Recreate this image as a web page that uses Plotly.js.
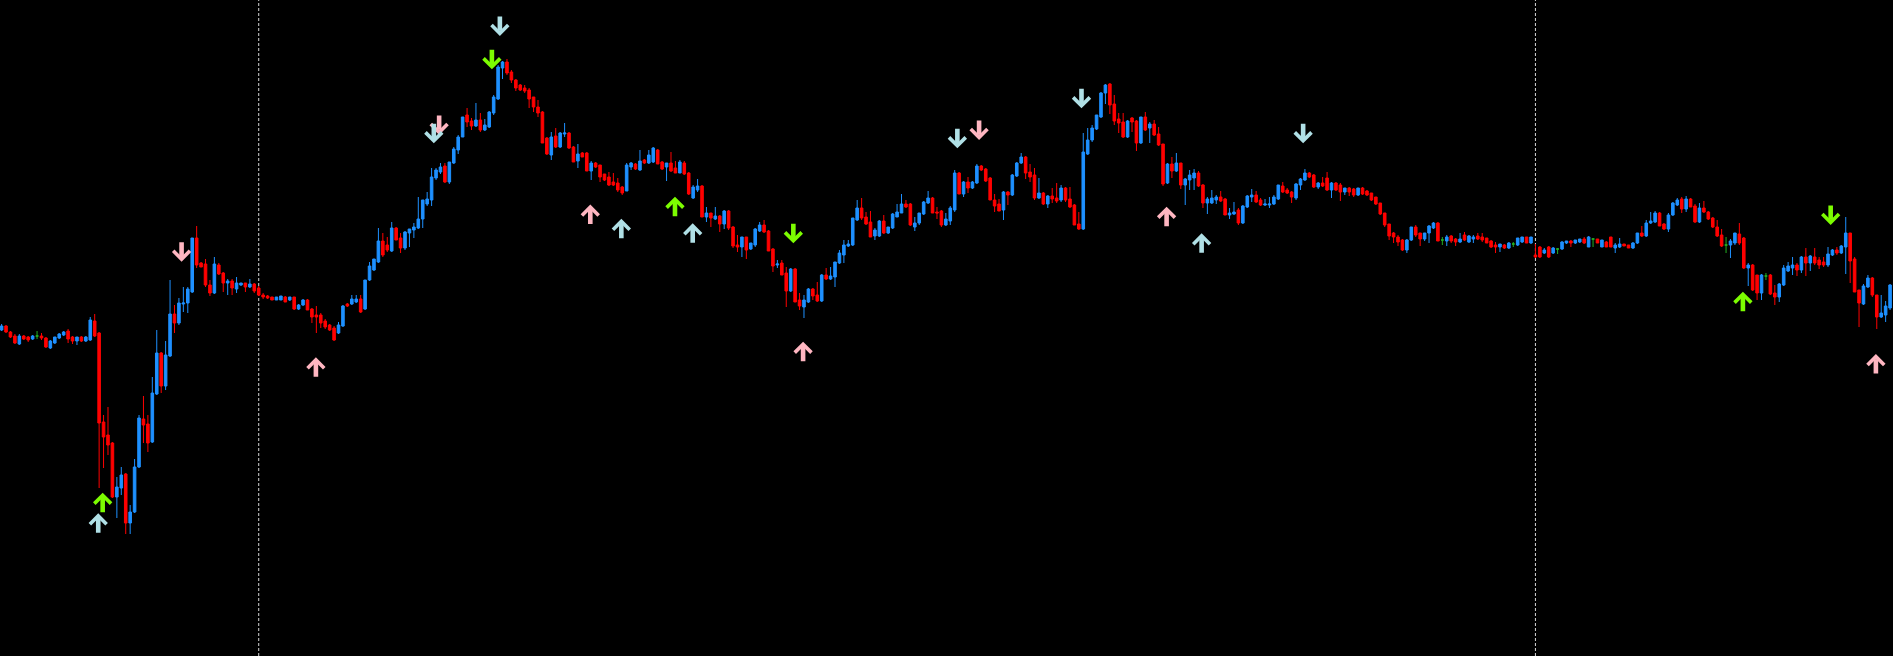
<!DOCTYPE html>
<html>
<head>
<meta charset="utf-8">
<script src="https://cdn.plot.ly/plotly-3.0.1.min.js"></script>
<style>
html,body{margin:0;padding:0;background:#000;overflow:hidden}
#chart{width:1893px;height:656px}
</style>
</head>
<body>
<div id="chart"></div>
<script>
// Candles, in chart price units: [open, high, low, close]
const session1Bars = [
[326,332,325,330],[330,331,323,324],[324,325,318,319],[320,322,312,313],[312,322,311,320],
[320,321,316,317],[319,320,314,316],[317,321,316,320],[320,325,317,320],[320,323,316,318],
[318,319,308,309],[308,316,307,315],[313,319,312,319],[318,323,317,322],[321,325,320,324],
[325,327,313,317],[319,320,312,315],[315,319,311,319],[319,320,314,315],[315,320,314,319],
[316,339,315,336],[335,342,319,320],[323,324,168,233],[234,241,188,219],[221,249,201,211],
[213,214,158,159],[159,179,138,169],[168,189,161,181],[182,183,122,133],[133,151,122,144],
[144,197,143,189],[189,241,188,238],[237,260,213,231],[232,241,204,213],[214,279,213,263],
[262,326,261,303],[303,304,263,270],[270,315,266,301],[300,376,299,342],[342,351,323,333],
[333,358,331,353],[352,369,344,353],[353,369,343,367],[364,418,363,418],[418,430,388,391],
[393,394,389,389],[392,397,369,371],[371,376,360,363],[363,399,362,392],[391,393,381,382],
[383,384,364,373],[373,377,361,375],[375,377,361,368],[367,379,363,373],[371,373,370,373],
[373,373,364,369],[369,377,368,372],[372,373,363,365]
];
const session2Bars = [
[368,370,360,361],[361,363,357,359],[360,361,357,358],[359,359,356,356],[356,359,356,359],[356,360,356,360],[359,360,354,354],[356,359,355,359],[359,359,346,347],[347,352,346,351],
[351,357,350,356],[356,357,346,346],[347,348,333,339],[341,350,323,339],[341,343,328,333],[335,337,327,329],[331,332,325,326],[328,330,315,316],[323,334,322,331],[330,351,329,350],
[352,353,349,350],[352,361,351,357],[354,361,353,357],[357,361,343,344],[347,376,346,376],[376,394,375,390],[386,397,385,397],[394,428,393,415],[415,423,399,401],[411,419,404,406],
[405,434,404,428],[428,429,416,416],[418,423,403,408],[408,425,406,424],[423,427,409,427],[426,433,418,429],[428,459,427,437],[437,456,428,456],[452,464,450,457],[456,488,450,479],
[478,488,476,486],[484,493,482,489],[490,493,473,474],[474,494,472,494],[493,509,492,507],[506,521,502,519],[519,539,519,539],[541,548,529,534],[535,538,526,530],[530,553,529,536],
[536,543,524,526],[526,537,525,531],[529,545,528,544],[543,561,541,559],[557,591,556,589],[588,595,577,594],[594,597,581,583],[584,586,573,576],[576,577,565,568],[571,572,565,566],
[568,571,563,565],[566,568,548,557],[559,559,544,549],[549,556,539,543],[544,545,513,513],[518,519,501,502],[501,524,496,519],[520,528,508,509],[509,524,508,523],[522,533,519,523],
[523,524,507,508],[509,510,494,494],[495,512,488,502],[503,504,499,499],[503,504,485,485],[485,495,476,493],[493,494,488,489],[491,491,474,479],[482,482,475,476],[479,484,470,471],
[474,483,470,471],[473,478,464,466],[469,470,461,463],[465,493,465,491],[489,494,486,493],[492,493,486,487],[486,506,485,495],[496,497,492,493],[493,506,492,501],[494,509,493,508],
[506,507,492,492],[494,495,486,487],[489,493,475,493],[493,504,484,485],[488,495,483,483],[483,496,483,494],[493,495,481,482],[483,484,461,462],[458,471,457,469],[466,477,464,470],
[470,471,439,439],[439,449,434,443],[443,443,429,438],[437,449,436,440],[440,441,424,432],[432,446,427,445],[445,446,426,428],[429,430,408,410],[411,421,404,409],[409,419,399,419],
[419,419,397,406],[407,413,406,413],[411,428,409,427],[425,434,424,431],[431,436,423,424],[425,426,405,405],[407,408,384,390],[391,396,388,392],[393,396,381,381],[383,389,349,365],
[365,388,364,387],[387,388,354,354],[356,363,346,350],[349,361,338,356],[354,368,353,367],[367,368,356,360],[361,374,354,355],[355,382,354,381],[381,388,376,377],[377,389,376,380],
[379,394,369,394],[393,406,392,403],[401,416,393,411],[410,416,409,412],[411,438,410,438],[436,456,435,448],[448,458,436,438],[439,444,431,432],[434,445,419,419],[420,428,416,426],
[420,436,419,435],[435,441,422,423],[423,429,422,429],[428,443,427,442],[439,452,439,444],[443,462,443,452],[452,456,448,449],[452,453,430,431],[429,439,425,433],[433,443,431,443],
[442,455,441,454],[453,465,452,458],[458,459,443,443],[444,449,437,443],[445,446,429,431],[431,443,430,437],[435,450,431,448],[446,486,444,483],[483,484,462,462],[462,475,459,474],
[474,479,463,468],[468,475,467,474],[473,492,472,490],[490,491,485,486],[487,488,474,475],[478,479,456,456],[456,462,444,450],[452,457,445,445],[446,465,436,464],[464,465,451,461],
[461,482,460,481],[480,494,479,493],[493,503,492,499],[499,500,477,483],[484,492,474,479],[481,488,456,458],[458,478,457,463],[463,464,451,452],[452,461,448,460],[460,468,453,457],
[458,473,453,455],[456,471,454,468],[468,469,454,456],[457,469,448,449],[451,452,431,431],[432,444,426,427],[427,523,426,504],[502,528,501,516],[516,531,514,528],[527,541,526,541],
[539,564,538,563],[563,572,552,571],[572,573,542,551],[552,561,531,535],[537,543,523,533],[534,543,518,519],[519,536,518,535],[538,539,524,534],[535,536,505,513],[513,539,512,539],
[539,544,525,526],[528,534,513,532],[532,536,520,521],[522,529,510,511],[512,512,470,472],[473,493,472,492],[492,499,478,485],[485,503,484,493],[493,493,467,471],[471,478,451,477],
[476,486,466,481],[478,487,466,483],[483,485,469,470],[471,472,448,453],[453,459,442,457],[453,466,452,458],[456,461,452,459],[459,465,454,455],[457,458,441,441],[441,448,437,443],
[442,454,441,444],[446,448,431,433],[433,451,432,450],[449,461,448,460],[459,467,454,461],[461,465,453,454],[456,458,450,451],[451,457,450,452],[451,459,448,452],[452,461,451,459],
[457,471,456,471],[470,474,463,464],[466,468,462,463],[464,465,453,459],[458,473,456,472],[471,478,466,477],[476,487,475,483],[483,484,478,479],[481,482,468,469],[469,474,467,473],
[473,479,469,470],[478,484,465,466],[466,474,458,473],[473,474,465,466],[471,473,455,464],[464,468,461,468],[468,469,460,464],[467,468,459,461],[461,468,460,468],[468,469,461,462],
[465,466,460,461],[463,463,455,456],[459,459,451,452],[453,453,441,442],[443,443,429,431],[432,432,416,420],[423,424,413,419],[419,421,410,414],[416,417,405,406],[406,417,403,416],
[416,429,415,429],[429,431,419,421],[423,423,410,417],[417,423,415,423],[423,431,413,430],[428,434,427,433],[433,434,415,415],[416,419,411,416],[415,421,410,419],[420,421,413,415],
[417,418,410,414],[414,423,413,417],[421,424,415,416],[414,421,413,420],[417,421,413,419],[420,423,416,417],[419,423,414,416],[418,418,413,413],[415,416,408,409],[411,414,403,409],
[409,412,404,412],[411,412,407,408],[408,414,407,413],[412,414,409,412],[411,418,410,418],[414,419,413,419],[419,419,413,413],[413,419,412,419]
];
const session3Bars = [
[401,412,398,399],[409,410,398,399],[403,408,402,406],[409,410,398,399],[403,409,402,408],[407,408,402,407],[407,415,406,414],[413,415,412,415],[415,416,409,413],[413,416,412,416],
[414,417,413,417],[417,419,412,413],[409,420,409,419],[417,418,409,417],[417,417,413,413],[409,416,409,416],[414,415,409,409],[419,419,409,409],[408,413,403,411],[409,418,408,412],
[412,412,410,410],[411,411,408,408],[408,414,407,413],[413,423,412,423],[423,430,419,420],[420,436,419,433],[433,444,432,435],[434,445,433,443],[443,444,430,430],[432,433,426,427],
[427,443,424,441],[441,454,440,453],[451,458,450,456],[457,459,443,447],[447,460,444,457],[457,458,449,449],[450,452,433,434],[434,453,433,448],[448,455,443,444],[444,445,436,437],
[438,439,428,429],[429,436,419,420],[421,427,409,410],[411,419,403,411],[411,417,398,415],[413,423,411,423],[422,433,411,413],[418,419,387,388],[388,393,370,391],[391,392,365,366],
[381,381,356,363],[363,382,356,381],[380,383,376,380],[381,382,361,362],[363,371,351,359],[359,373,354,372],[371,391,370,388],[385,394,384,390],[388,399,381,391],[391,393,380,386],
[386,400,383,399],[399,408,380,393],[393,401,385,400],[399,408,391,393],[396,399,387,391],[394,399,389,391],[391,409,389,402],[401,407,400,406],[406,409,401,403],[403,411,402,410],
[409,439,382,423],[423,423,373,395],[397,399,364,364],[366,366,329,353],[352,372,351,370],[369,381,368,378],[378,379,359,361],[361,361,327,339],[339,361,338,343],[341,355,334,350],[348,372,346,371]
];
// bars drawn as unchanged (doji) bars
const dojiBars = [8, 325, 341, 351, 359, 389, 398];
// first bar of each new session (period separators)
const sessionStarts = [58, 346];

// signal arrows: bar position, price at arrow tip, direction, signal type
const signalBar   = [21.8, 22.8, 40.6, 70.9, 98.7, 97.5, 110.6, 112.4, 132.8, 139.8, 151.9, 155.9, 178.6, 180.8, 215.6, 220.5, 243.6, 262.8, 270.7, 293.6, 392.8, 412.6, 422.8];
const signalPrice = [142.7, 163.3, 394.3, 298.7, 521, 512.7, 586.7, 620, 451.5, 437.2, 459.3, 432.7, 412.7, 314.3, 507.7, 516, 547.7, 449.3, 422.7, 512.7, 364.3, 431, 302];
const signalDir   = ['up','up','down','up','down','down','down','down','up','up','up','up','down','up','down','down','down','up','up','down','up','down','up'];
const signalType  = ['A','C','B','B','B','A','C','A','B','A','C','A','C','B','A','B','A','B','A','A','C','C','B'];

const signalColors = {A:'#B0E0E6', B:'#FFB6C1', C:'#7CFC00'};

const bars = session1Bars.concat(session2Bars, session3Bars);
const dojiSet = new Set(dojiBars);
function emptySet(){return {x:[],open:[],high:[],low:[],close:[]};}
const mainSet = emptySet(), dojiSetData = emptySet();
bars.forEach(function(b, i){
  const t = dojiSet.has(i) ? dojiSetData : mainSet;
  t.x.push(i); t.open.push(b[0]); t.high.push(b[1]); t.low.push(b[2]); t.close.push(b[3]);
});

const traces = [
  {
    type:'candlestick', x:mainSet.x, open:mainSet.open, high:mainSet.high, low:mainSet.low, close:mainSet.close,
    increasing:{line:{color:'#1E90FF', width:1}, fillcolor:'#1E90FF'},
    decreasing:{line:{color:'#FF0000', width:1}, fillcolor:'#FF0000'},
    whiskerwidth:0, hoverinfo:'skip', showlegend:false
  },
  {
    type:'candlestick', x:dojiSetData.x, open:dojiSetData.open, high:dojiSetData.high, low:dojiSetData.low, close:dojiSetData.close,
    increasing:{line:{color:'#22B022', width:1}, fillcolor:'#22B022'},
    decreasing:{line:{color:'#22B022', width:1}, fillcolor:'#22B022'},
    whiskerwidth:0, hoverinfo:'skip', showlegend:false
  }
];

const annotations = signalBar.map(function(x, k){
  return {
    x:x, y:signalPrice[k], xref:'x', yref:'y', text:'',
    showarrow:true, arrowhead:4, arrowsize:0.7, arrowwidth:4.6,
    arrowcolor:signalColors[signalType[k]],
    ax:0, ay:(signalDir[k] === 'up' ? 21 : -21), standoff:0
  };
});

const shapes = sessionStarts.map(function(s){
  return {type:'line', xref:'x', yref:'paper', x0:s, x1:s, y0:0, y1:1,
          line:{color:'#d8d8d8', width:1, dash:'3px,2px'}, layer:'below'};
});

const layout = {
  width:1893, height:656,
  margin:{l:0, r:0, t:0, b:0, pad:0},
  paper_bgcolor:'#000000', plot_bgcolor:'#000000',
  showlegend:false,
  boxgap:0.42, boxgroupgap:0,
  xaxis:{range:[-0.361, 426.66], visible:false, showgrid:false, zeroline:false, rangeslider:{visible:false}, fixedrange:true},
  yaxis:{range:[0, 656], visible:false, showgrid:false, zeroline:false, fixedrange:true},
  shapes:shapes,
  annotations:annotations
};

Plotly.newPlot('chart', traces, layout, {staticPlot:true, displayModeBar:false});
</script>
</body>
</html>
